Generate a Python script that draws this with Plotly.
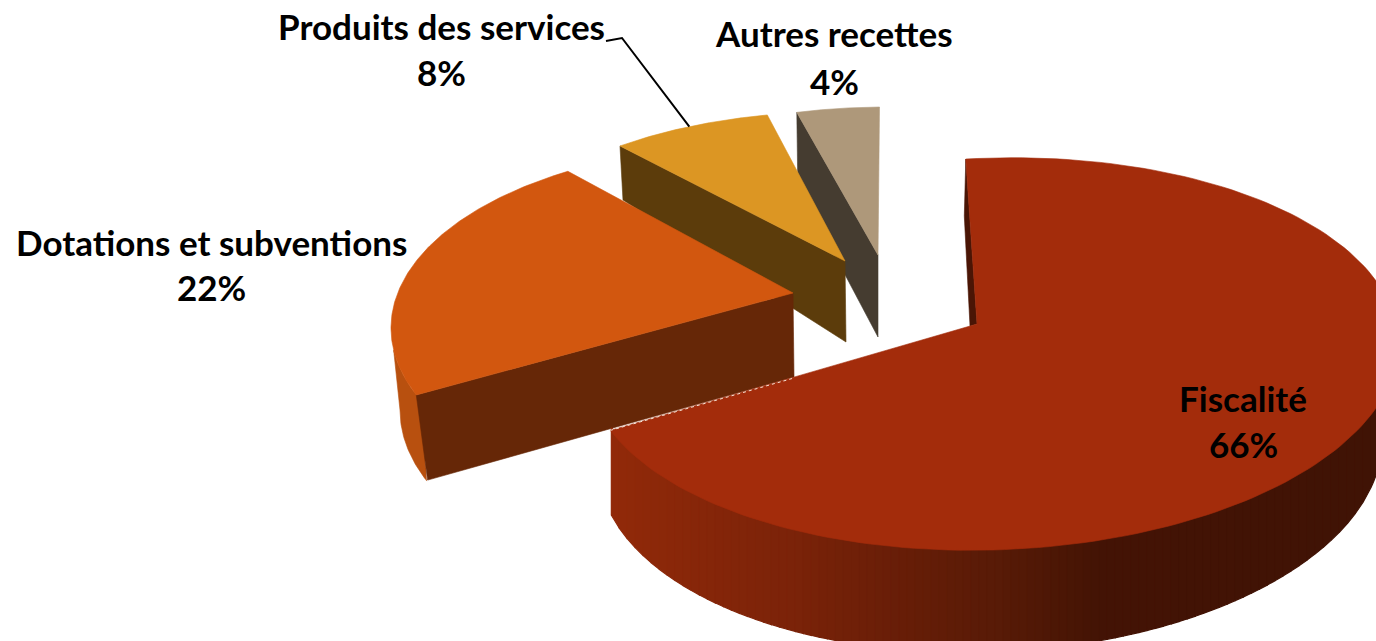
import numpy as np
import plotly.graph_objects as go

categories = ["Fiscalité", "Dotations et subventions", "Produits des services", "Autres recettes"]
values = [66, 22, 8, 4]

top_colors = ["#A32C0B", "#D2570F", "#DC9623", "#AE987A"]
side_colors = ["#4A1505", "#662707", "#5C3C0B", "#453C30"]
rim_color = "#B8500F"

# projection of each exploded slice: ellipse, apex, start parameter and angular stretch
geom = [
    dict(ex=992, ey=354, rx=406, ry=196, sh=-0.025, ax=977, ay=324, t0=-3.7, k=1.068),
    dict(ex=751, ey=328, rx=360, ry=182, sh=0, ax=793, ay=293, t0=248.4, k=1.023),
    dict(ex=840, ey=260, rx=343.7, ry=148.4, sh=0, ax=845, ay=261, t0=320.2, k=0.958),
    dict(ex=885, ey=255, rx=330, ry=148, sh=0, ax=878, ay=255, t0=344.5, k=1.01),
]
label_pos = [(1243, 398, 444), (211, 242, 287), (441, 26, 72), (834, 33, 81)]
FONT = "Lato, Carlito, Calibri, sans-serif"
FS = 35


def pt(g, t):
    r = np.radians(t)
    x = g["ex"] + g["rx"] * np.sin(r)
    y = g["ey"] - g["ry"] * np.cos(r) + g["sh"] * (g["rx"] * np.sin(r))
    return x, y


def lower_y(g, x):
    s = np.clip((x - g["ex"]) / g["rx"], -1, 1)
    return g["ey"] + g["ry"] * np.sqrt(1 - s ** 2) + g["sh"] * (x - g["ex"])


def span(i):
    g = geom[i]
    return g["t0"], g["t0"] + g["k"] * 360 * values[i] / sum(values)


fig = go.Figure()


def poly(xs, ys, color, lw=0.6):
    fig.add_trace(go.Scatter(x=list(xs), y=list(ys), mode="lines", fill="toself", fillcolor=color,
                             line=dict(color=color, width=lw), hoverinfo="skip", showlegend=False))


def top(i):
    g = geom[i]
    a, b = span(i)
    t = np.linspace(a, b, 160)
    x, y = pt(g, t)
    poly(np.r_[g["ax"], x, g["ax"]], np.r_[g["ay"], y, g["ay"]], top_colors[i])


# Autres recettes
g = geom[3]
a, b = span(3)
xa, ya = pt(g, a)
poly([xa, g["ax"], g["ax"], xa + 1, xa], [ya, g["ay"], g["ay"] + 82, ya + 73, ya], side_colors[3])
top(3)

# Produits des services
g = geom[2]
a, b = span(2)
xa, ya = pt(g, a)
poly([xa, g["ax"], g["ax"] + 1, xa + 3, xa], [ya, g["ay"], g["ay"] + 81, ya + 54, ya], side_colors[2])
top(2)

# Dotations et subventions
g = geom[1]
a, b = span(1)
bot = dict(ex=750, ey=410, rx=350, ry=185, sh=0)
ts = np.linspace(a - 2, 263, 40)
tx, ty = pt(g, ts)
tb = np.linspace(a - 1, 270, 40)
bx, by = pt(bot, tb)
poly(np.r_[tx, bx[::-1]], np.r_[ty, by[::-1]], rim_color)
xa, ya = pt(g, a)
xb, yb = pt(bot, a)
poly([xa, g["ax"], g["ax"] + 1, xb + 3, xa], [ya, g["ay"], g["ay"] + 84, yb + 2, ya], side_colors[1])
top(1)

# Fiscalité
g = geom[0]
a, b = span(0)
bot = dict(ex=990, ey=452, rx=392, ry=200, sh=-0.03)
stops_x = [610, 800, 900, 1000, 1100, 1376]
stops_rgb = np.array([[146, 42, 10], [122, 35, 9], [104, 30, 8], [88, 27, 7], [68, 20, 5], [64, 19, 5]])
xe, ye = pt(g, b)
edges = np.arange(xe + 1, 1384, 8.0)
for j in range(len(edges) - 1):
    x0, x1 = edges[j], edges[j + 1]
    c = [int(np.interp((x0 + x1) / 2, stops_x, stops_rgb[:, n])) for n in range(3)]
    xx = np.linspace(x0, x1, 5)
    poly(np.r_[xx, xx[::-1], x0], np.r_[lower_y(g, xx) - 4, lower_y(bot, xx[::-1]), lower_y(g, x0) - 4],
         f"rgb({c[0]},{c[1]},{c[2]})", lw=1.2)
xs, ys = pt(g, a)
poly([xs, xs - 1.5, 970, g["ax"], xs], [ys, ys + 57, 326, g["ay"], ys], side_colors[0])
top(0)
fig.add_trace(go.Scatter(x=[xe, g["ax"] - 183], y=[ye, g["ay"] + 54], mode="lines",
                         line=dict(color="#F6E4D6", width=1, dash="dot"), hoverinfo="skip", showlegend=False))

# leader line of "Produits des services"
xl, yl = pt(geom[2], span(2)[0] + 0.5 * (span(2)[1] - span(2)[0]))
fig.add_trace(go.Scatter(x=[606, 622, xl], y=[41, 38, yl], mode="lines",
                         line=dict(color="#000000", width=2), hoverinfo="skip", showlegend=False))

annotations = []
for name, v, (lx, ly1, ly2) in zip(categories, values, label_pos):
    for txt, yy in ((name, ly1), (f"{v}%", ly2)):
        annotations.append(dict(x=lx, y=yy, xref="x", yref="y", text=f"<b>{txt}</b>", showarrow=False,
                                xanchor="center", yanchor="middle",
                                font=dict(family=FONT, size=FS, color="#000000")))

fig.update_layout(
    width=1376, height=641, margin=dict(l=0, r=0, t=0, b=0),
    paper_bgcolor="white", plot_bgcolor="white", showlegend=False,
    xaxis=dict(range=[0, 1376], visible=False, fixedrange=True),
    yaxis=dict(range=[641, 0], visible=False, fixedrange=True),
    annotations=annotations,
)
fig.write_html("out.html", config=dict(displayModeBar=False),
               post_script="document.body.style.margin='0';document.documentElement.style.overflow='hidden';"
                           "var s=document.createElement('style');s.textContent='svg text{font-variant-ligatures:none}';"
                           "document.head.appendChild(s);")
